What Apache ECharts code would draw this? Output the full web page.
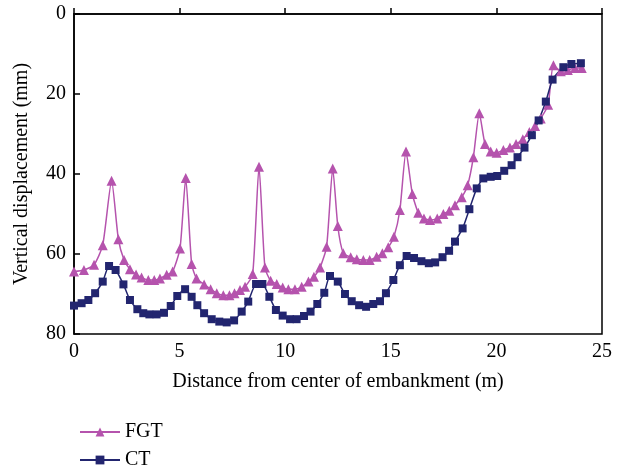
<!DOCTYPE html>
<html>
<head>
<meta charset="utf-8">
<script src="https://cdn.jsdelivr.net/npm/echarts@6/dist/echarts.min.js"></script>
<style>
  html, body { margin: 0; padding: 0; background: #fff; }
  #main { width: 623px; height: 470px; }
</style>
</head>
<body>
<div id="main"></div>
<script>
// distance (m) / vertical displacement (mm)
var fgtX = [0, 0.47, 0.95, 1.36, 1.78, 2.1, 2.37, 2.65, 2.94, 3.2, 3.52, 3.8, 4.07, 4.39, 4.67, 5.02, 5.29, 5.57, 5.8, 6.16,
  6.47, 6.76, 7.07, 7.36, 7.6, 7.86, 8.1, 8.46, 8.76, 9.04, 9.31, 9.6, 9.88, 10.15, 10.46, 10.78, 11.1, 11.36, 11.65, 11.96,
  12.25, 12.49, 12.75, 13.1, 13.39, 13.7, 14.0, 14.33, 14.6, 14.88, 15.15, 15.43, 15.72, 16.02, 16.3, 16.57, 16.86, 17.2, 17.49, 17.77,
  18.04, 18.36, 18.64, 18.91, 19.19, 19.46, 19.73, 20.01, 20.33, 20.64, 20.93, 21.25, 21.56, 21.83, 22.1, 22.45, 22.7, 23.05, 23.38, 23.72, 24.04];
var fgtY = [64.4, 64, 62.7, 57.8, 41.7, 56.3, 61.5, 63.8, 65.1, 65.9, 66.5, 66.5, 66.1, 65.2, 64.4, 58.6, 41, 62.5, 66.1, 67.6,
  68.8, 69.8, 70.3, 70.3, 69.8, 69, 68.2, 65, 38.2, 63.4, 66.7, 67.5, 68.4, 68.8, 68.8, 68.2, 66.9, 65.7, 63.4, 58.2,
  38.6, 53, 59.8, 60.8, 61.3, 61.5, 61.5, 60.7, 59.8, 58.3, 55.7, 49, 34.4, 45, 49.7, 51.1, 51.5, 51.1, 50, 49.2,
  47.8, 45.8, 42.8, 35.8, 24.8, 32.5, 34.4, 34.7, 34, 33.4, 32.5, 31.3, 29.5, 28, 26.1, 22.7, 12.8, 14.3, 14, 13.5, 13.5];

var ctX = [0, 0.36, 0.68, 1.0, 1.36, 1.66, 1.97, 2.34, 2.65, 3.0, 3.28, 3.57, 3.91, 4.26, 4.58, 4.89, 5.26, 5.57, 5.84, 6.16,
  6.52, 6.88, 7.23, 7.58, 7.94, 8.25, 8.62, 8.92, 9.25, 9.56, 9.88, 10.23, 10.54, 10.89, 11.2, 11.52, 11.85, 12.12, 12.49, 12.83,
  13.15, 13.5, 13.83, 14.17, 14.49, 14.77, 15.12, 15.43, 15.75, 16.1, 16.45, 16.8, 17.1, 17.45, 17.76, 18.04, 18.4, 18.72, 19.07, 19.38,
  19.73, 20.04, 20.37, 20.72, 21.0, 21.33, 21.68, 22.0, 22.34, 22.66, 23.17, 23.55, 24.0];
var ctY = [72.9, 72.3, 71.5, 69.8, 66.9, 63, 64, 67.6, 71.5, 73.8, 74.8, 75.1, 75.1, 74.7, 73, 70.5, 68.8, 70.7, 72.8, 74.8,
  76.3, 76.9, 77.1, 76.6, 74.4, 71.9, 67.5, 67.5, 70.7, 74, 75.4, 76.3, 76.3, 75.5, 74.4, 72.5, 69.7, 65.5, 66.9, 70,
  71.8, 72.8, 73.2, 72.5, 71.8, 69.8, 66.5, 62.8, 60.5, 61, 61.8, 62.3, 62.1, 60.8, 59.2, 56.9, 53.6, 48.8, 43.6, 41.1,
  40.7, 40.5, 39.2, 37.8, 35.8, 33.4, 30.3, 26.6, 21.9, 16.4, 13.3, 12.5, 12.3];

var xTicks = [0, 5, 10, 15, 20, 25];
var yTicks = [0, 20, 40, 60, 80];

function pairs(xs, ys) {
  var out = [];
  for (var i = 0; i < xs.length; i++) out.push([xs[i], ys[i]]);
  return out;
}

var font = '"Liberation Serif", "DejaVu Serif", serif';
var legendText = { fontFamily: font, fontSize: 20, color: '#000' };
var chart = echarts.init(document.getElementById('main'));

chart.setOption({
  animation: false,
  backgroundColor: '#fff',
  grid: {
    left: 74, right: 21, top: 14, bottom: 136,
    show: true, borderColor: '#000', borderWidth: 1.5
  },
  // two legends so the rows sit where the figure has them
  legend: [
    {
      left: 74, top: 417, itemWidth: 40, itemHeight: 11, itemGap: 0,
      textStyle: legendText, data: ['FGT']
    },
    {
      left: 74, top: 445, itemWidth: 40, itemHeight: 11, itemGap: 0,
      textStyle: legendText, data: ['CT']
    }
  ],
  xAxis: {
    type: 'value',
    min: xTicks[0], max: xTicks[xTicks.length - 1], interval: 5,
    name: 'Distance from center of embankment (m)',
    nameLocation: 'middle', nameGap: 38,
    nameTextStyle: { fontFamily: font, fontSize: 20, color: '#000' },
    axisLine: { lineStyle: { color: '#000', width: 1.5 } },
    axisTick: { inside: true, length: 6, lineStyle: { color: '#000', width: 1.5 } },
    axisLabel: { fontFamily: font, fontSize: 20, color: '#000', margin: 8 },
    splitLine: { show: false }
  },
  yAxis: {
    type: 'value', inverse: true,
    min: yTicks[0], max: yTicks[yTicks.length - 1], interval: 20,
    name: 'Vertical displacement (mm)',
    nameLocation: 'middle', nameGap: 42,
    nameTextStyle: { fontFamily: font, fontSize: 20, color: '#000' },
    axisLine: { lineStyle: { color: '#000', width: 1.5 } },
    axisTick: { inside: true, length: 6, lineStyle: { color: '#000', width: 1.5 } },
    axisLabel: { fontFamily: font, fontSize: 20, color: '#000', margin: 8 },
    splitLine: { show: false }
  },
  series: [
    {
      name: 'FGT', type: 'line', smooth: 0.2,
      data: pairs(fgtX, fgtY),
      symbol: 'triangle', symbolSize: 10,
      itemStyle: { color: '#b553ad' },
      lineStyle: { color: '#b553ad', width: 1.5 }
    },
    {
      name: 'CT', type: 'line', smooth: 0.2,
      data: pairs(ctX, ctY),
      symbol: 'rect', symbolSize: 8,
      itemStyle: { color: '#22256f' },
      lineStyle: { color: '#22256f', width: 1.5 }
    }
  ]
});
</script>
</body>
</html>
